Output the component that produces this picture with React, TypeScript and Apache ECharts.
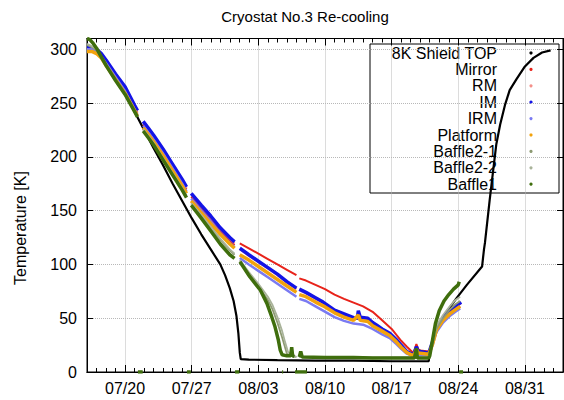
import React, { useEffect, useRef } from "react";
import * as echarts from "echarts";

// x values are days since 07/16 00:00
const majorDays = [4, 11, 18, 25, 32, 39, 46];
const majorLabels = ["07/20", "07/27", "08/03", "08/10", "08/17", "08/24", "08/31"];
const yTicks = [0, 50, 100, 150, 200, 250, 300];

type P = [number, number | null];

const shieldTop: P[] = [
  [0, 302], [0.5, 301.5], [1, 299], [1.5, 295], [2, 289], [3, 275], [4, 259], [5, 242], [6, 225], [7, 208],
  [8, 192], [9, 175], [10, 159], [11, 143], [12, 128], [13, 114], [14, 100], [14.5, 90], [15, 78], [15.4, 66],
  [15.7, 52], [15.9, 36], [16.05, 18], [16.15, 12], [17, 11.5], [20, 11], [24, 10.5], [28, 10.5], [32, 10], [35.9, 10],
  [36.0, 20], [36.9, 42], [37.8, 56], [38.8, 68.5], [39.9, 81], [41.5, 98], [41.6, 106], [41.7, 114], [41.8, 120],
  [42.3, 160], [42.7, 190], [43.0, 212], [43.4, 230], [43.9, 248], [44.4, 262], [45.1, 272], [46, 284], [46.9, 292],
  [47.8, 297], [48.7, 299],
];

const mirror: P[] = [
  [0, 300], [0.5, 300], [1, 298], [1.5, 294], [2, 288], [3, 275], [4, 262], [5, 246], [5.3, 241], [5.3, null],
  [5.9, 230], [6.5, 223], [7, 217], [8, 204], [9, 190], [10, 176], [10.45, 170], [10.45, null],
  [10.95, 163], [12, 152], [13, 142], [14, 131], [15, 122], [15.5, 118], [15.5, null],
  [16.05, 119.6], [17, 115], [18, 110], [19, 105], [20, 100], [21, 95], [22, 90], [22, null],
  [22.3, 87], [23, 85], [24, 81], [25, 77], [26, 72], [27, 68], [28, 64.5], [29, 61], [30, 56], [31, 48], [32, 40],
  [33, 29], [33.6, 23.5], [34.3, 17.5], [34.6, 26], [34.8, 21], [35, 20], [35.9, 19], [36.2, 23.5], [36.7, 39],
  [37.4, 48], [38.1, 55], [38.7, 58], [39.2, 61],
];

const rm: P[] = [
  [0, 301], [0.5, 300.5], [1, 299], [1.5, 295], [2, 289], [3, 276], [4, 264], [5, 247], [5.3, 242], [5.3, null],
  [5.9, 232], [6.5, 225], [7, 219], [8, 206], [9, 192], [10, 178], [10.45, 171], [10.45, null],
  [10.95, 165], [12, 154], [13, 144], [14, 133], [15, 124], [15.5, 120], [15.5, null],
  [16.05, 114], [17, 108], [18, 102], [19, 96], [20, 90], [21, 83], [22, 77], [22, null],
  [22.3, 76], [23, 73], [24, 68], [24.8, 64], [26, 56.5], [27, 53], [28, 49.5], [29.5, 49], [30, 45], [31, 39],
  [31.8, 35], [32.5, 29], [33, 24], [33.6, 18.5], [34.3, 15.5], [34.8, 18.5], [35.9, 17], [36.3, 27], [36.7, 40],
  [37.4, 49], [38.1, 56], [38.7, 60], [39.3, 64],
];

const im: P[] = [
  [0, 302], [0.5, 301.5], [1, 300], [1.5, 296], [2, 290], [3, 277], [4, 265], [5, 248], [5.3, 243], [5.3, null],
  [5.9, 233], [6.5, 226], [7, 220], [8, 207], [9, 193], [10, 179], [10.45, 172], [10.45, null],
  [10.95, 166], [12, 155], [13, 145], [14, 134], [15, 125], [15.5, 121], [15.5, null],
  [16.05, 115], [17, 109], [18, 103], [19, 97], [20, 91], [21, 84], [22, 78], [22, null],
  [22.3, 77], [23, 74], [24, 69], [24.8, 65], [26, 57.5], [27, 54], [28, 50.5], [28.4, 50], [28.5, 57], [28.7, 51],
  [29.5, 50], [30, 46], [30.4, 43.7], [31, 40], [31.8, 36], [32.5, 30], [33, 25], [33.6, 19], [34.3, 16],
  [34.6, 23.5], [34.8, 19], [35, 19], [35.9, 17.5], [36.3, 28], [36.7, 41], [37.4, 50], [38.1, 57], [38.7, 61],
  [39.3, 65],
];

const irm: P[] = [
  [0, 300], [0.5, 300], [1, 298], [1.5, 293], [2, 287], [3, 274], [4, 261], [5, 244], [5.3, 239], [5.3, null],
  [5.9, 229], [6.5, 222], [7, 216], [8, 203], [9, 189], [10, 175], [10.45, 168], [10.45, null],
  [10.95, 161], [12, 150], [13, 140], [14, 129], [15, 120], [15.5, 116], [15.5, null],
  [16.05, 106], [17, 100], [18, 94], [19, 88], [20, 82], [21, 76], [22, 70], [22, null],
  [22.3, 68], [23, 66], [24, 61], [24.8, 57], [26, 51], [27, 47.5], [28, 45], [29, 44], [30, 40], [31, 35],
  [31.8, 31.5], [32.5, 26], [33, 21.5], [33.6, 17], [34.3, 14.5], [34.8, 16], [35.9, 15.5], [36.3, 25], [36.7, 37],
  [37.4, 46], [38.1, 52], [38.7, 56], [39.2, 59],
];

const platform: P[] = [
  [0, 298], [0.5, 298], [1, 296], [1.5, 292], [2, 285], [3, 272], [4, 259], [5, 243], [5.3, 238], [5.3, null],
  [5.9, 227], [6.5, 220], [7, 214], [8, 201], [9, 187], [10, 173], [10.45, 166], [10.45, null],
  [10.95, 159], [12, 148], [13, 138], [14, 128], [15, 119], [15.5, 115], [15.5, null],
  [16.05, 109], [17, 104], [18, 98], [19, 92], [20, 86], [21, 80], [22, 74], [22, null],
  [22.3, 72], [23, 70], [24, 65], [24.8, 61.5], [26, 55], [27, 51], [28, 48], [28.5, 53], [28.7, 48], [29.5, 47],
  [30, 43], [31, 38], [31.8, 34], [32.5, 28], [33, 23], [33.6, 18], [34.3, 15], [34.6, 21], [34.8, 17.5], [35, 17.5],
  [35.9, 16.5], [36.3, 26], [36.7, 39], [37.4, 48], [38.1, 54], [38.7, 58], [39.2, 61],
];

const baffle21: P[] = [
  [0, 304], [0.5, 302], [1, 299], [1.5, 292], [2, 285], [3, 271], [4, 258], [5, 242], [5.3, 237], [5.3, null],
  [5.9, 225], [6.5, 218], [7, 212], [8, 198], [9, 184], [10, 170], [10.45, 163], [10.45, null],
  [10.95, 156], [12, 145], [13, 134], [14, 123], [15, 113], [15.5, 109], [15.5, null],
  [16.05, 103], [17, 91], [18, 80], [19, 67], [19.5, 58], [20, 46], [20.5, 32], [20.8, 23], [21, 17], [21.5, 15],
  [22, 14], [22, null],
  [22.3, 14], [26, 13.5], [30, 13], [35.9, 13], [36.3, 26], [36.7, 40], [37.4, 50], [38.1, 58], [38.7, 63], [39.2, 66],
];

const baffle22: P[] = [
  [0, 305], [0.5, 303], [1, 300], [1.5, 293], [2, 286], [3, 272], [4, 259], [5, 243], [5.3, 238], [5.3, null],
  [5.9, 226], [6.5, 219], [7, 213], [8, 199], [9, 185], [10, 171], [10.45, 164], [10.45, null],
  [10.95, 157], [12, 146], [13, 135], [14, 124], [15, 114], [15.5, 110], [15.5, null],
  [16.05, 104], [17, 93], [18, 82], [19, 70], [19.5, 62], [20, 51], [20.5, 38], [20.8, 28], [21.1, 19], [21.5, 15],
  [22, 14], [22, null],
  [22.3, 14], [26, 13.5], [30, 13.5], [35.9, 13.5], [36.3, 28], [36.7, 43], [37.4, 53], [38.1, 61], [38.7, 67], [39.2, 70],
];

const baffle1: P[] = [
  [0, 310], [0.3, 309], [0.6, 306], [1, 301], [1.5, 293], [2, 285], [3, 271], [4, 258], [5, 242], [5.3, 237], [5.3, null],
  [5.35, 0], [5.85, 0], [5.85, null],
  [5.9, 224], [6.5, 217], [7, 211], [8, 197], [9, 183], [10, 169], [10.45, 162], [10.45, null],
  [10.5, 0], [10.9, 0], [10.9, null],
  [10.95, 155], [12, 143], [13, 131], [14, 119], [15, 109], [15.5, 105.7], [15.5, null],
  [15.55, 0], [16.0, 0], [16.0, null],
  [16.07, 102.5], [17.1, 88.6], [18.2, 76.2], [18.9, 63.8], [19.4, 51.4], [19.75, 42], [20.1, 29.7], [20.3, 20.4],
  [20.5, 16], [21, 15], [21.4, 15], [21.5, 23], [21.6, 15], [21.8, 14.5], [21.8, null],
  [20.5, 0], [20.6, 0], [20.6, null],
  [21.85, 0], [23.1, 0], [23.1, null],
  [22.3, 14], [22.45, 19], [22.6, 14], [25, 13.5], [28, 13.5], [30, 13], [34.4, 13], [34.6, 22], [34.7, 13],
  [35.9, 13], [36.0, 15], [36.3, 30], [36.6, 45], [37, 57], [37.5, 66], [38, 72], [38.5, 77], [39, 81], [39.1, 84],
  [39.1, null],
  [39.1, 0], [39.5, 0],
];

const seriesNames = ["8K Shield TOP", "Mirror", "RM", "IM", "IRM", "Platform", "Baffle2-1", "Baffle2-2", "Baffle1"];
const seriesData = [shieldTop, mirror, rm, im, irm, platform, baffle21, baffle22, baffle1];
const seriesColors = ["#000000", "#e8231a", "#f4908a", "#1414e6", "#7a7af2", "#f2a20c", "#8d9a72", "#a9b39a", "#3f6e0d"];
const seriesWidths = [2.2, 2, 2, 3.5, 2.5, 3.5, 1.8, 1.8, 3.5];

const FONT = '"Liberation Sans", Arial, Helvetica, sans-serif';

export default function App() {
  const ref = useRef<HTMLDivElement>(null);
  useEffect(() => {
    if (!ref.current) return;
    const chart = echarts.init(ref.current, null, { renderer: "svg", width: 564, height: 400 });

    const legendItems: any[] = [
      {
        type: "rect",
        shape: { x: 370, y: 44, width: 189, height: 149 },
        style: { fill: "none", stroke: "#000", lineWidth: 1 },
        silent: true,
      },
    ];
    seriesNames.forEach((n, i) => {
      const y = 53 + 16.4 * i;
      legendItems.push({
        type: "text",
        x: 497,
        y,
        style: { text: n, align: "right", verticalAlign: "middle", font: `16px ${FONT}`, fill: "#000" },
        silent: true,
      });
      legendItems.push({
        type: "circle",
        shape: { cx: 531, cy: y, r: 1.6 },
        style: { fill: seriesColors[i] },
        silent: true,
      });
    });

    const minorAxis = (position: string) => ({
      type: "value",
      min: 0,
      max: 50,
      interval: 1,
      position,
      axisLine: { show: true, onZero: false, lineStyle: { color: "#000", width: 1 } },
      axisTick: { show: true, inside: true, length: 4, lineStyle: { color: "#000", width: 1 } },
      axisLabel: { show: false },
      splitLine: { show: false },
    });

    chart.setOption({
      animation: false,
      grid: { left: 87, right: 1, top: 38.5, bottom: 28, show: true, borderColor: "#000", borderWidth: 1 },
      graphic: [
        {
          type: "text",
          x: 305,
          y: 16,
          style: { text: "Cryostat No.3 Re-cooling", align: "center", verticalAlign: "middle", font: `15px ${FONT}`, fill: "#000" },
          silent: true,
        },
        {
          type: "text",
          x: 20,
          y: 228,
          rotation: Math.PI / 2,
          style: { text: "Temperature [K]", align: "center", verticalAlign: "middle", font: `16px ${FONT}`, fill: "#000" },
          silent: true,
        },
        ...legendItems,
      ],
      xAxis: [
        {
          type: "value",
          min: 0,
          max: 50,
          position: "bottom",
          axisLine: { show: true, onZero: false, lineStyle: { color: "#000", width: 1 } },
          axisTick: { show: true, inside: true, length: 7, customValues: majorDays, lineStyle: { color: "#000", width: 1 } },
          axisLabel: {
            show: true,
            customValues: majorDays,
            formatter: (v: number) => {
              const i = majorDays.indexOf(Math.round(v));
              return i >= 0 ? majorLabels[i] : "";
            },
            margin: 8,
            fontSize: 16,
            fontFamily: FONT,
            color: "#000",
          },
          splitLine: { show: true, lineStyle: { color: "#b8b8b8", type: "dotted", width: 1 } },
        },
        minorAxis("bottom"),
        {
          type: "value",
          min: 0,
          max: 50,
          position: "top",
          axisLine: { show: true, onZero: false, lineStyle: { color: "#000", width: 1 } },
          axisTick: { show: true, inside: true, length: 7, customValues: majorDays, lineStyle: { color: "#000", width: 1 } },
          axisLabel: { show: false },
          splitLine: { show: false },
        },
        minorAxis("top"),
      ],
      yAxis: [
        {
          type: "value",
          min: 0,
          max: 310,
          interval: 50,
          position: "left",
          axisLine: { show: true, onZero: false, lineStyle: { color: "#000", width: 1 } },
          axisTick: { show: true, inside: true, length: 6, lineStyle: { color: "#000", width: 1 } },
          axisLabel: {
            show: true,
            margin: 10,
            fontSize: 16,
            fontFamily: FONT,
            color: "#000",
            showMaxLabel: false,
            formatter: (v: number) => (yTicks.indexOf(v) >= 0 ? String(v) : ""),
          },
          splitLine: { show: true, lineStyle: { color: "#b8b8b8", type: "dotted", width: 1 } },
        },
        {
          type: "value",
          min: 0,
          max: 310,
          interval: 50,
          position: "right",
          axisLine: { show: true, onZero: false, lineStyle: { color: "#000", width: 1 } },
          axisTick: { show: true, inside: true, length: 6, lineStyle: { color: "#000", width: 1 } },
          axisLabel: { show: false },
          splitLine: { show: false },
        },
      ],
      series: seriesNames.map((name, i) => ({
        name,
        type: "line",
        xAxisIndex: 0,
        yAxisIndex: 0,
        data: seriesData[i],
        showSymbol: false,
        symbol: "none",
        connectNulls: false,
        clip: true,
        silent: true,
        emphasis: { disabled: true },
        lineStyle: { color: seriesColors[i], width: seriesWidths[i] },
        itemStyle: { color: seriesColors[i] },
      })),
    });
    return () => chart.dispose();
  }, []);
  return (
    <div
      ref={ref}
      style={{ position: "fixed", left: 0, top: 0, width: 564, height: 400, background: "#fff" }}
    />
  );
}
